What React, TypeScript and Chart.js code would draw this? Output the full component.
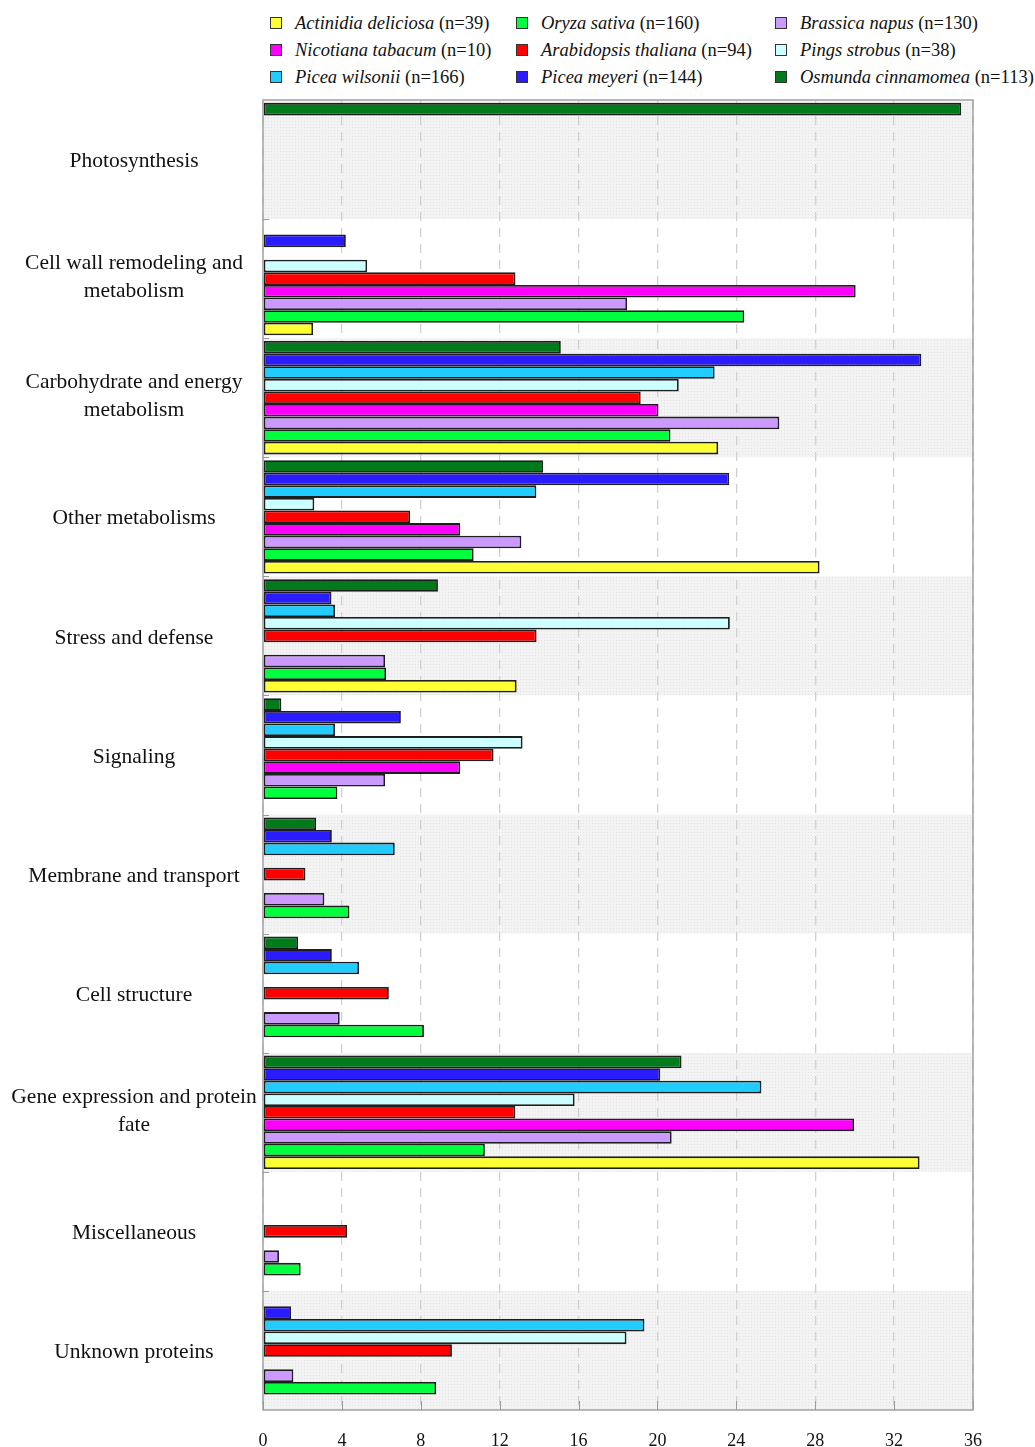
import React, { useEffect, useRef } from 'react';
import { Chart, registerables } from 'chart.js';

Chart.register(...registerables);

// ---------------- data ----------------
const categories: string[][] = [
  ['Photosynthesis'],
  ['Cell wall remodeling and', 'metabolism'],
  ['Carbohydrate and energy', 'metabolism'],
  ['Other metabolisms'],
  ['Stress and defense'],
  ['Signaling'],
  ['Membrane and transport'],
  ['Cell structure'],
  ['Gene expression and protein', 'fate'],
  ['Miscellaneous'],
  ['Unknown proteins'],
];

const xTicks = [0, 4, 8, 12, 16, 20, 24, 28, 32, 36];

const actinidia = [null, 2.54, 23.08, 28.22, 12.86, null, null, null, 33.29, null, null];
const oryza = [null, 24.4, 20.66, 10.68, 6.24, 3.77, 4.38, 8.16, 11.25, 1.91, 8.78];
const brassica = [null, 18.46, 26.18, 13.1, 6.19, 6.19, 3.11, 3.89, 20.72, 0.81, 1.54];
const nicotiana = [null, 30.05, 20.05, 10.0, null, 10.0, null, null, 29.97, null, null];
const arabidopsis = [null, 12.8, 19.15, 7.46, 13.87, 11.69, 2.15, 6.38, 12.79, 4.26, 9.58];
const pings = [null, 5.28, 21.08, 2.6, 23.67, 13.16, null, null, 15.8, null, 18.43];
const wilsonii = [null, null, 22.9, 13.86, 3.65, 3.65, 6.68, 4.87, 25.27, null, 19.34];
const meyeri = [null, 4.2, 33.38, 23.64, 3.47, 6.99, 3.49, 3.49, 20.14, null, 1.42];
const osmunda = [35.4, null, 15.1, 14.2, 8.87, 0.93, 2.69, 1.78, 21.22, null, null];

const speciesNames = [
  'Actinidia deliciosa', 'Oryza sativa', 'Brassica napus',
  'Nicotiana tabacum', 'Arabidopsis thaliana', 'Pings strobus',
  'Picea wilsonii', 'Picea meyeri', 'Osmunda cinnamomea',
];
const speciesN = [39, 160, 130, 10, 94, 38, 166, 144, 113];
const speciesColors = [
  '#ffff33', '#00ff3c', '#cc99ff',
  '#ff00ff', '#ff0000', '#ccffff',
  '#22ccff', '#2b1cff', '#007a1a',
];
const speciesValues = [actinidia, oryza, brassica, nicotiana, arabidopsis, pings, wilsonii, meyeri, osmunda];

// draw order inside a group: top to bottom
const drawOrder = [8, 7, 6, 5, 4, 3, 2, 1, 0];

const SERIF = '"Liberation Serif", "Times New Roman", serif';

function makePattern(ctx: CanvasRenderingContext2D) {
  const c = document.createElement('canvas');
  c.width = 3;
  c.height = 3;
  const p = c.getContext('2d')!;
  p.fillStyle = '#f3f3f3';
  p.fillRect(0, 0, 3, 3);
  p.fillStyle = '#e4e4e4';
  p.fillRect(1, 1, 1, 1);
  return ctx.createPattern(c, 'repeat');
}

const decorPlugin = {
  id: 'decor',
  beforeDraw(chart: any) {
    const { ctx, chartArea } = chart;
    const y = chart.scales.y;
    const n = categories.length;
    const band = (chartArea.bottom - chartArea.top) / n;
    ctx.save();
    ctx.fillStyle = makePattern(ctx) || '#f2f2f2';
    for (let i = 0; i < n; i += 2) {
      const c = y.getPixelForValue(i);
      ctx.fillRect(chartArea.left, c - band / 2, chartArea.right - chartArea.left, band);
    }
    ctx.restore();
  },
  afterDraw(chart: any) {
    const { ctx, chartArea } = chart;
    const x = chart.scales.x;
    const y = chart.scales.y;
    const n = categories.length;
    const band = (chartArea.bottom - chartArea.top) / n;
    ctx.save();
    // frame
    ctx.strokeStyle = '#a3a3a3';
    ctx.lineWidth = 1.5;
    ctx.strokeRect(chartArea.left, chartArea.top, chartArea.right - chartArea.left, chartArea.bottom - chartArea.top);
    // inner ticks bottom
    ctx.lineWidth = 1;
    ctx.strokeStyle = '#9a9a9a';
    xTicks.forEach((t) => {
      const px = Math.round(x.getPixelForValue(t)) + 0.5;
      ctx.beginPath();
      ctx.moveTo(px, chartArea.bottom);
      ctx.lineTo(px, chartArea.bottom - 9);
      ctx.stroke();
    });
    // inner ticks left at band boundaries
    for (let i = 1; i < n; i++) {
      const py = Math.round(y.getPixelForValue(i) - band / 2) + 0.5;
      ctx.beginPath();
      ctx.moveTo(chartArea.left, py);
      ctx.lineTo(chartArea.left + 6, py);
      ctx.stroke();
    }
    // category labels
    ctx.fillStyle = '#111';
    ctx.font = `21.5px ${SERIF}`;
    ctx.textAlign = 'center';
    ctx.textBaseline = 'middle';
    const lh = 28;
    categories.forEach((lines, i) => {
      const c = y.getPixelForValue(i) + (lines.length > 1 ? -1 : 2);
      const start = c - ((lines.length - 1) * lh) / 2;
      lines.forEach((ln, k) => ctx.fillText(ln, 134, start + k * lh));
    });
    ctx.restore();
  },
};

export default function App() {
  const ref = useRef<HTMLCanvasElement | null>(null);

  useEffect(() => {
    if (!ref.current) return;
    const chart = new Chart(ref.current, {
      type: 'bar',
      data: {
        labels: categories.map((c) => c.join(' ')),
        datasets: drawOrder.map((i) => ({
          label: `${speciesNames[i]} (n=${speciesN[i]})`,
          data: speciesValues[i] as any,
          backgroundColor: speciesColors[i],
          borderColor: '#1e1e1e',
          borderWidth: 1.8,
          borderSkipped: false,
          categoryPercentage: 0.952,
          barPercentage: 1,
        })),
      },
      options: {
        indexAxis: 'y',
        animation: false,
        responsive: false,
        maintainAspectRatio: false,
        layout: { padding: { left: 263, right: 62, top: 100, bottom: 0 } },
        plugins: {
          legend: { display: false },
          tooltip: { enabled: false },
        },
        scales: {
          x: {
            type: 'linear',
            position: 'bottom',
            min: 0,
            max: 36,
            afterFit: (s: any) => {
              s.height = 37;
            },
            afterBuildTicks: (s: any) => {
              s.ticks = xTicks.map((v) => ({ value: v }));
            },
            ticks: {
              color: '#111',
              font: { family: SERIF, size: 18 },
              padding: 20,
              maxRotation: 0,
              autoSkip: false,
            },
            grid: {
              color: '#d0d0d0',
              lineWidth: 1.3,
              drawTicks: false,
            },
            border: { display: false, dash: [9, 7] },
          },
          y: {
            type: 'category',
            display: false,
            offset: true,
            grid: { display: false },
          },
        },
      },
      plugins: [decorPlugin],
    } as any);
    return () => chart.destroy();
  }, []);

  const colLeft = [270, 516, 775];
  const rowTop = [13, 40, 67];

  return (
    <div style={{ position: 'absolute', left: 0, top: 0, width: 1035, height: 1447, background: '#fff' }}>
      {speciesNames.map((name, i) => (
        <div
          key={name}
          style={{
            position: 'absolute',
            left: colLeft[i % 3],
            top: rowTop[Math.floor(i / 3)],
            height: 20,
            display: 'flex',
            alignItems: 'center',
            whiteSpace: 'nowrap',
            fontFamily: SERIF,
            fontSize: 18.5,
            color: '#111',
          }}
        >
          <span
            style={{
              display: 'inline-block',
              width: 10,
              height: 10,
              background: speciesColors[i],
              border: '1.5px solid #333',
              marginRight: 13,
            }}
          />
          <span>
            <i>{name}</i> (n={speciesN[i]})
          </span>
        </div>
      ))}
      <canvas ref={ref} width={1035} height={1447} style={{ position: 'absolute', left: 0, top: 0, width: 1035, height: 1447 }} />
    </div>
  );
}
